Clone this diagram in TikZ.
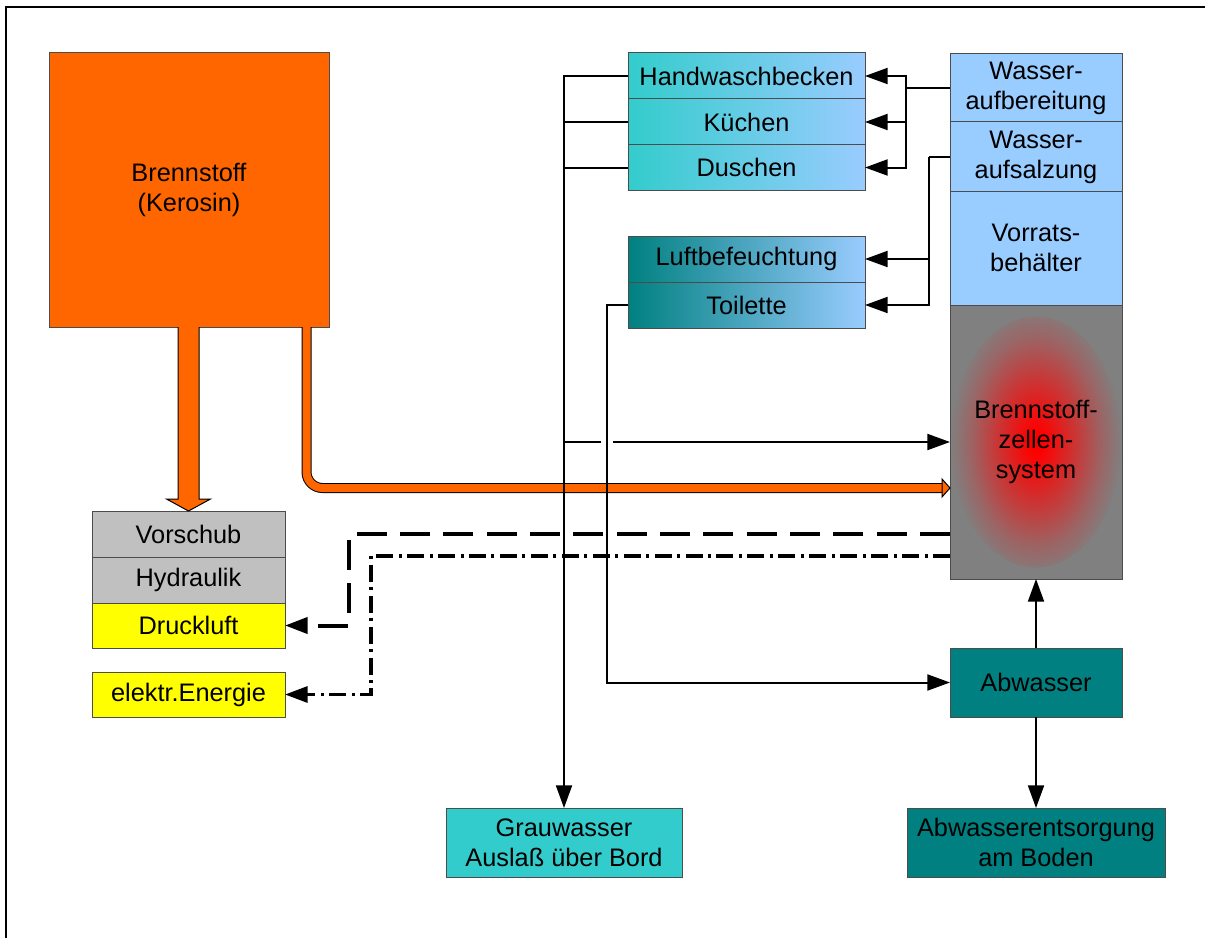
\documentclass[tikz,border=0pt]{standalone}
\usepackage{fontspec}
\setmainfont{Liberation Sans}
\usetikzlibrary{arrows.meta,calc}

\definecolor{fuelorange}{HTML}{FF6600}
\definecolor{lgray}{HTML}{C0C0C0}
\definecolor{midgray}{HTML}{808080}
\definecolor{lblue}{HTML}{99CCFF}
\definecolor{turq}{HTML}{33CCCC}
\definecolor{teal}{HTML}{008080}
\definecolor{yel}{HTML}{FFFF00}
\colorlet{glowmid}{red!60!midgray}
\colorlet{glowout}{red!22!midgray}

% red glow inside the fuel cell block (path bounding box maps to 25bp)
\pgfdeclareradialshading{fcglow}{\pgfpoint{0bp}{0bp}}{%
  color(0bp)=(red); color(2bp)=(red); color(11bp)=(glowmid);
  color(19bp)=(glowout); color(25bp)=(midgray); color(50bp)=(midgray)}

\begin{document}
\begin{tikzpicture}[x=0.75pt,y=-0.75pt,
  font=\fontsize{19}{22.5}\selectfont,
  box/.style={draw=black!70, line width=0.75pt, inner sep=0pt, outer sep=0pt,
              align=center, text=black},
  sz/.style 2 args={minimum width=#1*0.75pt, minimum height=#2*0.75pt},
  conn/.style={draw=black, line width=1.5pt},
  tipend/.style={-{Triangle[length=17pt,width=12pt]}},
  dashline/.style={draw=black, line width=3pt, dash pattern=on 22.5pt off 10pt},
  dotdash/.style={draw=black, line width=2.4pt,
                  dash pattern=on 12.75pt off 4.1pt on 2.25pt off 4.1pt},
  pipe/.style={draw=black, line width=0.75pt, double=fuelorange,
               double distance=6pt, rounded corners=12pt},
  blockarrow/.style={fill=fuelorange, draw=black, line width=0.75pt}]

\useasboundingbox (0,0) rectangle (1205,938);

% frame
\draw[line width=1.5pt] (6,938) -- (6,7) -- (1205,7);

% fuel tank and consumers
\node[box, sz={280}{274}, fill=fuelorange] (fuel) at (189,190) {Brennstoff\\(Kerosin)};
\node[box, sz={193}{46}, fill=lgray] (vorschub) at (188.5,534) {Vorschub};
\node[box, sz={193}{46}, fill=lgray] (hydraulik) at (188.5,580) {Hydraulik};
\node[box, sz={193}{45}, fill=yel] (druckluft) at (188.5,625.5) {Druckluft};
\node[box, sz={193}{45}, fill=yel] (energie) at (188.5,694.5) {elektr.Energie};

% water consumers
\node[box, sz={237}{46}, left color=turq, right color=lblue] (hand) at (746.5,76) {Handwaschbecken};
\node[box, sz={237}{46}, left color=turq, right color=lblue] (kuechen) at (746.5,122) {Küchen};
\node[box, sz={237}{45}, left color=turq, right color=lblue] (duschen) at (746.5,167.5) {Duschen};
\node[box, sz={237}{46}, left color=teal, right color=lblue] (luft) at (746.5,259) {Luftbefeuchtung};
\node[box, sz={237}{46}, left color=teal, right color=lblue] (toilette) at (746.5,305) {Toilette};

% water column and fuel cell
\node[box, sz={172}{68}, fill=lblue] (aufb) at (1036,88) {Wasser-\\aufbereitung};
\node[box, sz={172}{70}, fill=lblue] (aufs) at (1036,157) {Wasser-\\aufsalzung};
\node[box, sz={172}{114}, fill=lblue] (vorrat) at (1036,248) {Vorrats-\\behälter};
\node[box, sz={172}{274}, fill=midgray,
      path picture={\shade[shading=fcglow] (path picture bounding box.center)
                    ellipse [x radius=64pt, y radius=94pt];}]
      (fc) at (1036,442) {Brennstoff-\\zellen-\\system};

% waste water
\node[box, sz={172}{69}, fill=teal] (abw) at (1036,682.5) {Abwasser};
\node[box, sz={258}{69}, fill=teal] (entsorg) at (1036,842.5) {Abwasserentsorgung\\am Boden};
\node[box, sz={236}{69}, fill=turq] (grau) at (564,842.5) {Grauwasser\\Auslaß über Bord};

% bus positions
\coordinate (x1) at (906,0);
\coordinate (x2) at (929,0);
\coordinate (x3) at (607,0);
\coordinate (x4) at (349,0);
\coordinate (x5) at (371,0);

% fuel supply
\filldraw[blockarrow]
  ($(vorschub.north)+(-10.5,-184)$) -- ($(vorschub.north)+(-10.5,-12)$)
  -- ($(vorschub.north)+(-22,-12)$) -- (vorschub.north)
  -- ($(vorschub.north)+(22,-12)$) -- ($(vorschub.north)+(10.5,-12)$)
  -- ($(vorschub.north)+(10.5,-184)$);
\draw[pipe] ($(fuel.south east)+(-22.5,0)$) |- ($(fc.south west)+(-8,-91)$);
\filldraw[blockarrow] ($(fc.south west)+(-8,-100)$) -- ($(fc.south west)+(0,-91)$)
  -- ($(fc.south west)+(-8,-82)$) -- cycle;

% treated water distribution
\coordinate (j1) at (aufb.west -| x1);
\draw[conn] (aufb.west) -- (j1);
\draw[conn, tipend] (j1) |- (hand.east);
\draw[conn, tipend] (j1) |- (kuechen.east);
\draw[conn, tipend] (j1) |- (duschen.east);

\coordinate (j2) at (aufs.west -| x2);
\draw[conn] (aufs.west) -- (j2);
\draw[conn, tipend] (j2) |- (luft.east);
\draw[conn, tipend] (j2) |- (toilette.east);

% grey water
\draw[conn, tipend] (hand.west) -| (grau.north);
\draw[conn] (kuechen.west) -- (kuechen.west -| grau.north);
\draw[conn] (duschen.west) -- (duschen.west -| grau.north);
\draw[conn] (fc.west -| grau.north) -- ($(fc.west -| x3)+(-6,0)$);
\draw[conn, tipend] ($(fc.west -| x3)+(6,0)$) -- (fc.west);

% black water
\draw[conn, tipend] (toilette.west) -- (toilette.west -| x3) |- (abw.west);
\draw[conn, tipend] (abw.north) -- (fc.south);
\draw[conn, tipend] (abw.south) -- (entsorg.north);

% fuel cell outputs
\coordinate (dA) at ($(fc.south west)+(0,-45)$);
\coordinate (dB) at ($(fc.south west)+(0,-23)$);
\draw[dashline, tipend] (dA) -- (dA -| x4) |- (druckluft.east);
\draw[dotdash, tipend] (dB) -- (dB -| x5) |- (energie.east);

\end{tikzpicture}
\end{document}
